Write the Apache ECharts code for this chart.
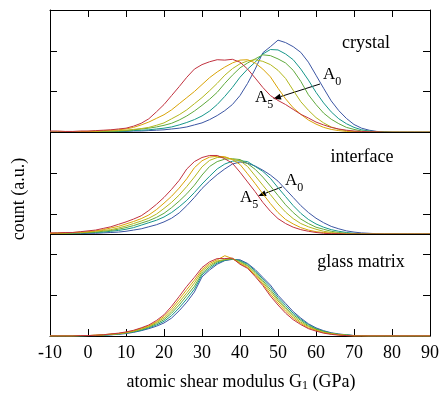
<!DOCTYPE html>
<html><head><meta charset="utf-8">
<script src="https://cdn.jsdelivr.net/npm/echarts@6/dist/echarts.min.js"></script>
<style>html,body{margin:0;padding:0;background:#fff}#c{width:442px;height:395px}</style>
</head><body><div id="c"></div>
<script>
// shear modulus G1 (GPa), step 2
const G = [-10,-8,-6,-4,-2,0,2,4,6,8,10,12,14,16,18,20,22,24,26,28,30,32,34,36,38,40,42,44,46,48,50,52,54,56,58,60,62,64,66,68,70,72,74,76,78,80,82,84,86,88,90];
const seriesNames = ['A0','A1','A2','A3','A4','A5'];
const colors = ['#3b55a3','#16968a','#5fa93c','#b2b71d','#d9a306','#c1323f'];
const panelLabels = ['crystal','interface','glass matrix'];
const panelOffsets = [5, 2.5, 0];

// crystal
const crystal = [
 [0,0,0,0,0,0,0.01,0.01,0.01,0.02,0.02,0.03,0.03,0.04,0.05,0.06,0.08,0.1,0.13,0.18,0.23,0.31,0.41,0.53,0.68,0.9,1.2,1.55,1.95,2.1,2.26,2.2,2.1,1.96,1.72,1.4,1.08,0.77,0.53,0.34,0.19,0.1,0.05,0.02,0.01,0,0,0,0,0,0],
 [0,0,0,0,0,0.01,0.01,0.01,0.02,0.02,0.03,0.04,0.05,0.06,0.08,0.1,0.13,0.18,0.24,0.31,0.4,0.52,0.68,0.88,1.1,1.35,1.55,1.72,1.92,2.03,2.02,1.92,1.78,1.55,1.28,0.98,0.72,0.5,0.33,0.21,0.12,0.06,0.03,0.01,0.01,0,0,0,0,0,0],
 [0,0,0,0.01,0.01,0.01,0.02,0.02,0.03,0.03,0.04,0.06,0.08,0.1,0.13,0.17,0.22,0.3,0.4,0.52,0.66,0.81,0.98,1.2,1.4,1.58,1.7,1.8,1.9,1.88,1.8,1.7,1.52,1.25,0.92,0.68,0.47,0.32,0.21,0.12,0.07,0.03,0.02,0.01,0,0,0,0,0,0,0],
 [0,0,0.01,0.01,0.01,0.02,0.02,0.03,0.03,0.04,0.05,0.07,0.09,0.12,0.17,0.23,0.33,0.43,0.55,0.7,0.85,1.02,1.2,1.4,1.56,1.68,1.75,1.78,1.74,1.66,1.52,1.32,1.03,0.75,0.54,0.36,0.23,0.13,0.07,0.04,0.02,0.01,0,0,0,0,0,0,0,0,0],
 [0,0.01,0.01,0.01,0.02,0.02,0.03,0.04,0.05,0.06,0.08,0.12,0.18,0.25,0.34,0.43,0.55,0.7,0.85,1.0,1.17,1.34,1.48,1.6,1.7,1.77,1.78,1.7,1.55,1.36,1.08,0.82,0.6,0.44,0.3,0.2,0.12,0.07,0.04,0.02,0.01,0,0,0,0,0,0,0,0,0,0],
 [0.03,0.03,0.02,0.02,0.03,0.03,0.04,0.05,0.06,0.08,0.1,0.15,0.22,0.33,0.5,0.68,0.9,1.12,1.35,1.55,1.66,1.73,1.78,1.77,1.79,1.72,1.55,1.33,1.1,0.9,0.78,0.68,0.56,0.44,0.35,0.25,0.18,0.12,0.08,0.05,0.03,0.02,0.01,0.01,0,0,0,0,0,0,0]
];
// interface
const iface = [
 [0,0,0,0.01,0.01,0.02,0.02,0.03,0.04,0.05,0.07,0.1,0.13,0.18,0.23,0.3,0.39,0.52,0.7,0.9,1.12,1.3,1.46,1.6,1.72,1.77,1.74,1.67,1.57,1.45,1.3,1.1,0.9,0.7,0.53,0.39,0.28,0.19,0.13,0.08,0.05,0.03,0.02,0.01,0,0,0,0,0,0,0],
 [0.01,0.01,0.02,0.02,0.03,0.03,0.04,0.05,0.07,0.09,0.12,0.16,0.22,0.28,0.34,0.42,0.53,0.67,0.83,1.02,1.23,1.42,1.6,1.72,1.79,1.8,1.78,1.66,1.54,1.37,1.14,0.92,0.7,0.51,0.36,0.25,0.17,0.11,0.07,0.04,0.02,0.01,0,0,0,0,0,0,0,0,0],
 [0.01,0.02,0.02,0.03,0.03,0.04,0.05,0.07,0.09,0.12,0.16,0.21,0.27,0.33,0.41,0.51,0.65,0.81,0.99,1.2,1.45,1.66,1.78,1.84,1.85,1.83,1.73,1.59,1.4,1.18,0.95,0.72,0.53,0.37,0.26,0.17,0.12,0.07,0.04,0.02,0.01,0,0,0,0,0,0,0,0,0,0],
 [0.02,0.02,0.03,0.03,0.04,0.05,0.07,0.09,0.11,0.15,0.2,0.26,0.32,0.39,0.49,0.63,0.78,0.96,1.17,1.4,1.65,1.81,1.88,1.88,1.84,1.8,1.66,1.43,1.2,0.97,0.74,0.54,0.38,0.26,0.18,0.12,0.07,0.04,0.02,0.01,0,0,0,0,0,0,0,0,0,0,0],
 [0.02,0.03,0.03,0.04,0.05,0.06,0.08,0.11,0.15,0.19,0.25,0.31,0.38,0.47,0.6,0.76,0.93,1.13,1.36,1.63,1.8,1.89,1.91,1.9,1.83,1.71,1.48,1.24,0.99,0.75,0.53,0.36,0.25,0.16,0.1,0.06,0.04,0.02,0.01,0,0,0,0,0,0,0,0,0,0,0,0],
 [0.03,0.03,0.04,0.04,0.06,0.08,0.1,0.14,0.18,0.24,0.3,0.37,0.45,0.58,0.73,0.9,1.1,1.32,1.6,1.78,1.88,1.93,1.93,1.85,1.74,1.52,1.28,1.04,0.78,0.56,0.38,0.26,0.17,0.11,0.07,0.04,0.02,0.01,0.01,0,0,0,0,0,0,0,0,0,0,0,0]
];
// glass matrix
const glass = [
 [0,0,0,0,0,0.01,0.01,0.02,0.03,0.04,0.06,0.09,0.13,0.18,0.24,0.32,0.44,0.62,0.83,1.08,1.45,1.62,1.76,1.85,1.88,1.87,1.78,1.63,1.44,1.25,1.0,0.8,0.6,0.44,0.3,0.2,0.13,0.08,0.05,0.03,0.01,0.01,0,0,0,0,0,0,0,0,0],
 [0,0,0,0,0,0.01,0.01,0.02,0.03,0.05,0.07,0.1,0.14,0.2,0.27,0.36,0.5,0.69,0.91,1.15,1.5,1.66,1.79,1.86,1.89,1.85,1.76,1.6,1.4,1.2,0.95,0.75,0.56,0.41,0.28,0.18,0.12,0.07,0.04,0.03,0.01,0.01,0,0,0,0,0,0,0,0,0],
 [0,0,0,0,0,0.01,0.01,0.02,0.04,0.05,0.08,0.11,0.16,0.22,0.3,0.4,0.56,0.76,0.99,1.22,1.54,1.7,1.82,1.87,1.89,1.83,1.73,1.56,1.36,1.14,0.9,0.7,0.52,0.38,0.25,0.17,0.11,0.06,0.04,0.02,0.01,0.01,0,0,0,0,0,0,0,0,0],
 [0,0,0,0,0.01,0.01,0.02,0.03,0.04,0.06,0.08,0.12,0.17,0.23,0.33,0.44,0.61,0.83,1.06,1.3,1.59,1.74,1.84,1.88,1.9,1.8,1.71,1.53,1.32,1.09,0.86,0.66,0.48,0.34,0.23,0.15,0.09,0.06,0.03,0.02,0,0,0,0,0,0,0,0,0,0,0],
 [0,0,0,0,0.01,0.01,0.02,0.03,0.05,0.06,0.09,0.13,0.19,0.25,0.35,0.48,0.67,0.9,1.14,1.37,1.63,1.78,1.87,1.97,1.9,1.78,1.68,1.49,1.28,1.03,0.81,0.61,0.44,0.31,0.2,0.14,0.08,0.05,0.03,0.01,0,0,0,0,0,0,0,0,0,0,0],
 [0,0,0,0,0.01,0.01,0.02,0.03,0.05,0.07,0.1,0.14,0.2,0.27,0.38,0.52,0.73,0.97,1.22,1.44,1.68,1.82,1.9,1.9,1.91,1.76,1.66,1.46,1.24,0.98,0.76,0.56,0.4,0.28,0.18,0.12,0.07,0.04,0.02,0.01,0,0,0,0,0,0,0,0,0,0,0]
];
const xTicks = [-10,0,10,20,30,40,50,60,70,80,90];

const FONT = "'Liberation Serif','DejaVu Serif',serif";
const panels = [crystal, iface, glass];
const series = [];
panels.forEach((p, pi) => {
  p.forEach((vals, si) => {
    series.push({
      type: 'line', name: seriesNames[si] + '_' + pi, showSymbol: false, silent: true,
      lineStyle: { width: 1, color: colors[si] }, itemStyle: { color: colors[si] },
      data: vals.map((v, i) => [G[i], v + panelOffsets[pi]]),
      z: 2
    });
  });
});
series.push({
  type: 'line', data: [], silent: true,
  markLine: { symbol: 'none', silent: true, label: { show: false },
    lineStyle: { color: '#000', width: 1, type: 'solid' },
    data: [{ yAxis: 2.5 }, { yAxis: 5 }] },
  z: 5
});

function arrow(x1, y1, x2, y2) {
  const dx = x2 - x1, dy = y2 - y1, L = Math.hypot(dx, dy);
  const ux = dx / L, uy = dy / L, h = 8, w = 3;
  const bx = x2 - h * ux, by = y2 - h * uy;
  return [
    { type: 'line', shape: { x1, y1, x2: bx, y2: by }, style: { stroke: '#000', lineWidth: 1 } },
    { type: 'polygon', shape: { points: [[x2, y2], [bx - w * uy, by + w * ux], [bx + w * uy, by - w * ux]] }, style: { fill: '#000' } }
  ];
}
function albl(x, y, sub) {
  return { type: 'text', x, y, style: { text: '{a|A}{s|' + sub + '}', rich: { a: { fontFamily: FONT, fontSize: 17, fill: '#000', verticalAlign: 'bottom' }, s: { fontFamily: FONT, fontSize: 12, fill: '#000', padding: [0,0,-5,0], verticalAlign: 'bottom' } }, verticalAlign: 'bottom' } };
}

const axisCommon = {
  type: 'value', splitLine: { show: false },
  axisLine: { show: true, onZero: false, lineStyle: { color: '#000', width: 1 } },
  axisTick: { show: true, inside: true, length: 7, lineStyle: { color: '#000' } }
};

const option = {
  animation: false,
  grid: { left: 50, right: 10, top: 10, bottom: 59 },
  xAxis: [
    Object.assign({}, axisCommon, { min: -10, max: 90, interval: 10, position: 'bottom',
      axisLabel: { color: '#000', fontFamily: FONT, fontSize: 18, margin: 8 } }),
    Object.assign({}, axisCommon, { min: -10, max: 90, interval: 10, position: 'top',
      axisLabel: { show: false } })
  ],
  yAxis: [
    Object.assign({}, axisCommon, { min: 0, max: 8, interval: 1, position: 'left', axisLabel: { show: false } }),
    Object.assign({}, axisCommon, { min: 0, max: 8, interval: 1, position: 'right', axisLabel: { show: false } })
  ],
  series: series,
  graphic: [
    { type: 'text', x: 241, y: 382, style: { text: '{a|atomic shear modulus G}{s|1}{a| (GPa)}', align: 'center', verticalAlign: 'middle',
      rich: { a: { fontFamily: FONT, fontSize: 18, fill: '#000' }, s: { fontFamily: FONT, fontSize: 12, fill: '#000', padding: [8,0,0,0] } } } },
    { type: 'text', x: 19, y: 199, rotation: Math.PI / 2, style: { text: 'count (a.u.)', fontFamily: FONT, fontSize: 18, fill: '#000', align: 'center', verticalAlign: 'middle' } },
    { type: 'text', x: 366, y: 43, style: { text: panelLabels[0], fontFamily: FONT, fontSize: 18, fill: '#000', align: 'center', verticalAlign: 'middle' } },
    { type: 'text', x: 362, y: 157, style: { text: panelLabels[1], fontFamily: FONT, fontSize: 18, fill: '#000', align: 'center', verticalAlign: 'middle' } },
    { type: 'text', x: 361, y: 262, style: { text: panelLabels[2], fontFamily: FONT, fontSize: 18, fill: '#000', align: 'center', verticalAlign: 'middle' } },
    albl(323, 83, '0'), albl(255, 106, '5'),
    albl(285, 189, '0'), albl(240, 206, '5'),
    ...arrow(320, 84, 273, 99),
    ...arrow(282, 187, 258, 196)
  ]
};
echarts.init(document.getElementById('c')).setOption(option);
</script></body></html>
